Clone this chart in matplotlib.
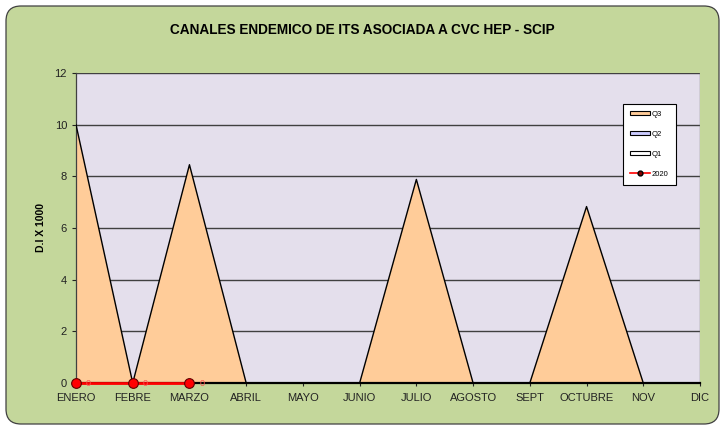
import matplotlib
matplotlib.use("Agg")
import matplotlib.pyplot as plt
from matplotlib.patches import FancyBboxPatch, Patch
from matplotlib.lines import Line2D

plt.rcParams['font.family'] = ['Liberation Sans', 'DejaVu Sans']

meses = ["ENERO", "FEBRE", "MARZO", "ABRIL", "MAYO", "JUNIO", "JULIO",
         "AGOSTO", "SEPT", "OCTUBRE", "NOV", "DIC"]
q3 = [10.0, 0, 8.45, 0, 0, 0, 7.88, 0, 0, 6.83, 0, 0]
q2 = [0, 0, 0, 0, 0, 0, 0, 0, 0, 0, 0, 0]
q1 = [0, 0, 0, 0, 0, 0, 0, 0, 0, 0, 0, 0]
casos_2020 = [0, 0, 0]
yticks = [0, 2, 4, 6, 8, 10, 12]

W, H = 724, 426
fig = plt.figure(figsize=(W / 100, H / 100), dpi=100)
fig.patch.set_facecolor("white")

# rounded green frame of the chart (pixel units)
frame = FancyBboxPatch((6, 2), 713, 418,
                       boxstyle="round,pad=0,rounding_size=15",
                       transform=None, facecolor="#C4D79B",
                       edgecolor="#404040", linewidth=0.9, zorder=-10)
fig.patches.append(frame)

ax = fig.add_axes([76 / W, (H - 383) / H, 624 / W, 310 / H])
ax.set_zorder(1)
ax.set_facecolor("#E4DFEC")
x = list(range(len(meses)))

ax.fill_between(x, 0, q3, facecolor="#FFCC99", edgecolor="none", zorder=2)
ax.plot(x, q3, color="black", linewidth=1.0, zorder=3)
ax.fill_between(x, 0, q2, facecolor="#CCCCFF", edgecolor="none", zorder=3)
ax.fill_between(x, 0, q1, facecolor="white", edgecolor="none", zorder=3)

ax.plot(range(len(casos_2020)), casos_2020, color="red", linewidth=2,
        marker="o", markersize=7, markerfacecolor="red",
        markeredgecolor="#600000", markeredgewidth=0.8, zorder=6,
        clip_on=False)
for i, v in enumerate(casos_2020):
    ax.annotate(f"{v:g}", (i, v), xytext=(9, 0), textcoords="offset points",
                color="#FF5050", fontsize=6.5, va="center", ha="center",
                zorder=7, annotation_clip=False)

ax.set_xlim(0, len(meses) - 1)
ax.set_ylim(0, 12)
ax.set_yticks(yticks)
ax.set_xticks(x)
ax.set_xticklabels(meses)
ax.tick_params(axis="both", labelsize=8, colors="#222222", length=3)
ax.tick_params(axis="x", length=2.5, pad=5)
for yv in yticks[1:]:
    ax.axhline(yv, color="#404040", linewidth=1.0, zorder=1)

for side in ["top", "right"]:
    ax.spines[side].set_visible(False)
ax.spines["left"].set_color("#404040")
ax.spines["left"].set_linewidth(0.9)
ax.spines["bottom"].set_color("black")
ax.spines["bottom"].set_linewidth(1.6)
ax.spines["bottom"].set_zorder(5)
ax.axvline(len(meses) - 1, color="#808080", linewidth=1.0, zorder=1)

ax.set_ylabel("D.I X 1000", fontsize=7.5, fontweight="bold", labelpad=6)

fig.text(0.5, (H - 30) / H, "CANALES ENDEMICO DE ITS ASOCIADA A CVC HEP - SCIP",
         ha="center", va="center", fontsize=9.8, fontweight="bold")

handles = [
    Patch(facecolor="#FFCC99", edgecolor="black", linewidth=0.8),
    Patch(facecolor="#CCCCFF", edgecolor="black", linewidth=0.8),
    Patch(facecolor="white", edgecolor="black", linewidth=0.8),
    Line2D([0], [0], color="red", linewidth=1.2, marker="o", markersize=3.5,
           markerfacecolor="#800000", markeredgecolor="black"),
]
leg = ax.legend(handles, ["Q3", "Q2", "Q1", "2020"], loc="upper left",
                bbox_to_anchor=((623 - 76) / 624, (383 - 104) / 310),
                fontsize=5.5, frameon=True, fancybox=False, edgecolor="black",
                facecolor="white", framealpha=1, handlelength=2.6,
                handleheight=0.45, labelspacing=1.7, borderpad=0.9,
                handletextpad=0.3, borderaxespad=0)
leg.get_frame().set_linewidth(0.8)
leg.set_zorder(10)

fig.savefig("out.png", dpi=100)
